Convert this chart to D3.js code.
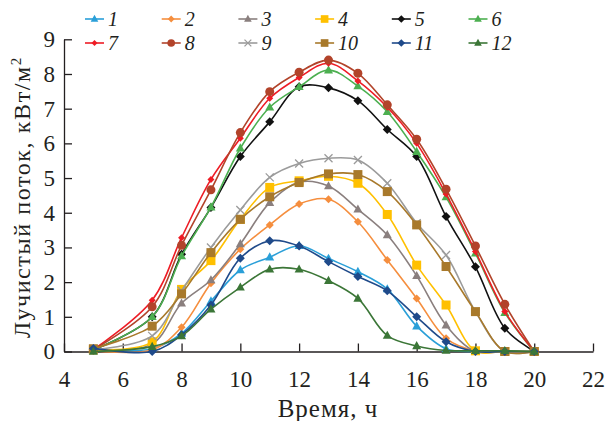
<!DOCTYPE html>
<html><head><meta charset="utf-8">
<script src="https://cdn.jsdelivr.net/npm/d3@7/dist/d3.min.js"></script>
<style>
html,body{margin:0;padding:0;background:#fff;}
svg{display:block;}
</style></head>
<body>
<svg id="chart" width="609" height="421"></svg>
<script>
const hours = [5,7,8,9,10,11,12,13,14,15,16,17,18,19,20];
const seriesNames = ["1","2","3","4","5","6","7","8","9","10","11","12"];
const s1  = [0.05,0.08,0.52,1.45,2.35,2.72,3.05,2.68,2.30,1.80,0.73,0.08,0,0,0];
const s2  = [0.02,0.05,0.70,1.97,2.95,3.65,4.25,4.39,3.74,2.64,1.53,0.38,0.02,0,0];
const s3  = [0.03,0.22,1.39,2.06,3.10,4.29,4.88,4.77,4.10,3.36,2.18,0.76,0,0,0];
const s4  = [0.05,0.28,1.79,2.62,3.81,4.73,4.92,5.05,4.85,3.95,2.49,1.34,0.02,0,0];
const s5  = [0.05,1.00,2.80,4.15,5.62,6.62,7.63,7.60,7.23,6.40,5.62,3.89,2.44,0.67,0];
const s6  = [0.05,1.00,2.75,4.16,5.86,7.04,7.63,8.11,7.65,6.91,5.76,4.45,2.83,1.12,0];
const s7  = [0.05,1.48,3.28,4.96,6.15,7.30,7.90,8.31,7.80,7.04,6.00,4.54,2.88,1.15,0];
const s8  = [0.05,1.29,3.06,4.66,6.31,7.49,8.05,8.40,8.02,7.11,6.12,4.68,3.04,1.36,0];
const s9  = [0.05,0.45,1.75,3.00,4.08,5.02,5.42,5.57,5.52,4.85,3.70,2.78,1.15,0,0];
const s10 = [0.08,0.73,1.66,2.85,3.81,4.46,4.87,5.12,5.10,4.61,3.65,2.45,1.15,0,0];
const s11 = [0.09,0.00,0.48,1.34,2.69,3.19,3.04,2.59,2.16,1.75,1.00,0.28,0,0,0];
const s12 = [0.00,0.14,0.45,1.22,1.85,2.37,2.37,2.04,1.53,0.46,0.16,0.03,0.02,0.02,0];
const xTicks = [4,6,8,10,12,14,16,18,20,22];
const yTicks = [0,1,2,3,4,5,6,7,8,9];
const xTitle = "Время, ч";
const yTitle = "Лучистый поток, кВт/м";

const FONT = "'Liberation Serif', 'Liberation Sans', Arial, sans-serif";
const allSeries = [s1,s2,s3,s4,s5,s6,s7,s8,s9,s10,s11,s12];
const colors = ["#2a9fd8","#f58e3e","#8a7f7e","#ffc000","#111111","#4caf50",
                "#ee1c25","#b2432a","#9b9b9b","#a8792b","#1f4a8a","#3b7637"];
const markers = ["tri","dia","tri","sq","dia","tri","dia","circ","x","sq","dia","tri"];
const msize = [9,8,9,9,9,9,7,9,8,9,9,9];

const svg = d3.select("#chart");
const x = d3.scaleLinear().domain([4,22]).range([64,593]);
const y = d3.scaleLinear().domain([0,9]).range([351.5,39.3]);

const gx = svg.append("g").attr("transform","translate(0,351.5)")
  .call(d3.axisBottom(x).tickValues(xTicks).tickSizeInner(-8).tickSizeOuter(0).tickPadding(19).tickFormat(d3.format("d")));
const gy = svg.append("g").attr("transform","translate(64,0)")
  .call(d3.axisLeft(y).tickValues(yTicks).tickSizeInner(-8).tickSizeOuter(0).tickPadding(9).tickFormat(d3.format("d")));
[gx,gy].forEach(g=>{
  g.attr("font-family",FONT).attr("font-size",23);
  g.selectAll("path.domain").attr("stroke","#231f20").attr("stroke-width",1.3);
  g.selectAll(".tick line").attr("stroke","#231f20").attr("stroke-width",1.3);
  g.selectAll(".tick text").style("font-family",FONT).style("font-size","23px").attr("fill","#231f20");
});

svg.append("text").attr("x",328).attr("y",417).attr("text-anchor","middle")
  .style("font-family",FONT).style("font-size","25px").style("letter-spacing","1px")
  .attr("fill","#231f20").text(xTitle);
const yt = svg.append("text").attr("transform","translate(30,197) rotate(-90)")
  .attr("text-anchor","middle").style("font-family",FONT).style("font-size","24px")
  .style("letter-spacing","1.6px").attr("fill","#231f20");
yt.append("tspan").text(yTitle);
yt.append("tspan").style("font-size","15px").attr("dy",-9).text("2");

function drawMarker(g, type, cx, cy, color, s){
  if(type==="circ"){
    g.append("circle").attr("cx",cx).attr("cy",cy).attr("r",s/2).attr("fill",color);
  } else if(type==="sq"){
    g.append("rect").attr("x",cx-s/2).attr("y",cy-s/2).attr("width",s).attr("height",s).attr("fill",color);
  } else if(type==="tri"){
    const h = s*0.9;
    g.append("path").attr("d",`M${cx},${cy-h*0.6}L${cx+s/2},${cy+h*0.4}L${cx-s/2},${cy+h*0.4}Z`).attr("fill",color);
  } else if(type==="dia"){
    const r = s/2;
    g.append("path").attr("d",`M${cx},${cy-r}L${cx+r},${cy}L${cx},${cy+r}L${cx-r},${cy}Z`).attr("fill",color);
  } else if(type==="x"){
    const r = s/2;
    g.append("path").attr("d",`M${cx-r},${cy-r}L${cx+r},${cy+r}M${cx-r},${cy+r}L${cx+r},${cy-r}`)
      .attr("stroke",color).attr("stroke-width",1.3).attr("fill","none");
  }
}

const line = d3.line().x(d=>x(d[0])).y(d=>y(d[1])).curve(d3.curveCatmullRom.alpha(0.5));
allSeries.forEach((vals,i)=>{
  const g = svg.append("g");
  const pts = hours.map((h,j)=>[h,vals[j]]);
  g.append("path").attr("d",line(pts)).attr("fill","none").attr("stroke",colors[i]).attr("stroke-width",1.6);
  pts.forEach(p=>drawMarker(g, markers[i], x(p[0]), y(p[1]), colors[i], msize[i]));
});

const leg = svg.append("g");
seriesNames.forEach((n,i)=>{
  const col = i%6, row = Math.floor(i/6);
  const lx = 85 + col*76.7, ly = 19 + row*24;
  leg.append("line").attr("x1",lx).attr("x2",lx+19).attr("y1",ly).attr("y2",ly)
    .attr("stroke",colors[i]).attr("stroke-width",1.6);
  drawMarker(leg, markers[i], lx+9.5, ly, colors[i], msize[i]*0.85);
  leg.append("text").attr("x",lx+23).attr("y",ly+7)
    .style("font-family",FONT).style("font-size","20px").style("font-style","italic")
    .attr("fill","#231f20").text(n);
});
</script>
</body></html>
